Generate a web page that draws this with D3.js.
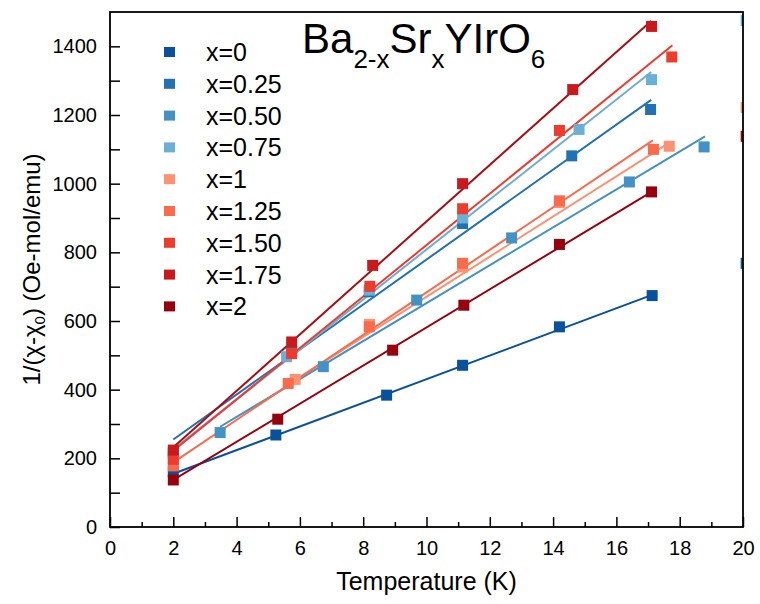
<!DOCTYPE html>
<html>
<head>
<meta charset="utf-8">
<script src="https://cdn.jsdelivr.net/npm/d3@7"></script>
<style>
  body { margin: 0; background: #fff; }
  svg { font-family: 'Liberation Sans', Arial, sans-serif; }
</style>
</head>
<body>
<svg id="chart" width="760" height="604"></svg>
<script>
'use strict';

// legend labels, one per composition
const labels = ['x=0', 'x=0.25', 'x=0.50', 'x=0.75', 'x=1', 'x=1.25', 'x=1.50', 'x=1.75', 'x=2'];

// measured points [T (K), 1/(chi-chi0)] per composition
const pts0 = [[2, 161], [5.24, 268], [8.74, 384], [11.14, 471], [14.2, 583], [17.13, 674], [20.1, 768]];
const pts025 = [[2, 215], [5.74, 512], [8.19, 685], [11.14, 884], [14.59, 1081], [17.08, 1216]];
const pts050 = [[3.48, 275], [6.74, 467], [9.69, 661], [12.69, 842], [16.41, 1005], [18.77, 1107]];
const pts075 = [[2, 212], [5.58, 496], [8.2, 690], [11.14, 900], [14.82, 1158], [17.11, 1303], [20.1, 1475]];
const pts1 = [[5.85, 430], [8.2, 590], [11.14, 757], [14.2, 945], [17.67, 1109], [20.1, 1222]];
const pts125 = [[2, 178], [5.63, 418], [8.19, 583], [11.14, 768], [14.2, 950], [17.17, 1100]];
const pts150 = [[2, 197], [5.74, 505], [8.21, 701], [11.14, 927], [14.2, 1155], [17.75, 1369]];
const pts175 = [[2, 224], [5.74, 539], [8.3, 762], [11.14, 1000], [14.62, 1274], [17.11, 1458]];
const pts2 = [[2, 137], [5.3, 314], [8.93, 515], [11.18, 646], [14.2, 823], [17.11, 976], [20.1, 1138]];

// Curie-Weiss fit lines [T1, y1, T2, y2]
const fitLines = [
  [2, 155, 17.13, 676],
  [2, 255, 17.1, 1244],
  [3.48, 292, 18.8, 1138],
  [2, 226, 17.1, 1325],
  [5.85, 428, 17.69, 1120],
  [2, 188, 17.15, 1126],
  [2, 222, 17.77, 1403],
  [2, 232, 17.1, 1474],
  [2, 137, 17.11, 976]
];

const xTicks = [0, 2, 4, 6, 8, 10, 12, 14, 16, 18, 20];
const yTicks = [0, 200, 400, 600, 800, 1000, 1200, 1400];

const allPts = [pts0, pts025, pts050, pts075, pts1, pts125, pts150, pts175, pts2];
const colors = ['#08519c', '#2171b5', '#4292c6', '#6baed6', '#fc9272', '#fb6a4a', '#ef3b2c', '#cb181d', '#99000d'];
const lineColors = ['#08519c', '#2171b5', '#4292c6', '#6baed6', '#fc9272', '#fb6a4a', '#ef3b2c', '#a50f15', '#99000d'];

const margin = {left: 110, right: 17, top: 12, bottom: 77};
const width = 760 - margin.left - margin.right;
const height = 604 - margin.top - margin.bottom;

const svg = d3.select('#chart');
const g = svg.append('g')
    .attr('transform', 'translate(' + margin.left + ',' + margin.top + ')');

const x = d3.scaleLinear().domain([0, 20]).range([0, width]);
const y = d3.scaleLinear().domain([0, 1500]).range([height, 0]);

g.append('clipPath').attr('id', 'clip')
    .append('rect').attr('width', width).attr('height', height);

const plot = g.append('g').attr('clip-path', 'url(#clip)');

// fit lines
plot.selectAll('line.fit')
    .data(fitLines)
    .enter().append('line')
    .attr('class', 'fit')
    .attr('x1', (d) => x(d[0]))
    .attr('y1', (d) => y(d[1]))
    .attr('x2', (d) => x(d[2]))
    .attr('y2', (d) => y(d[3]))
    .attr('stroke', (d, i) => lineColors[i])
    .attr('stroke-width', 2);

// squares
const sq = 11;
allPts.forEach((pts, i) => {
  plot.append('g').selectAll('rect')
      .data(pts)
      .enter().append('rect')
      .attr('x', (d) => x(d[0]) - sq / 2)
      .attr('y', (d) => y(d[1]) - sq / 2)
      .attr('width', sq)
      .attr('height', sq)
      .attr('fill', colors[i]);
});

// axes
g.append('g')
    .attr('transform', 'translate(0,' + height + ')')
    .call(d3.axisBottom(x).tickValues(xTicks).tickSizeInner(-10).tickSizeOuter(0).tickPadding(14).tickFormat(d3.format('d')));
g.append('g')
    .attr('transform', 'translate(0,' + height + ')')
    .call(d3.axisBottom(x).tickValues(d3.range(1, 20, 2)).tickSizeInner(-5).tickSizeOuter(0).tickFormat(''));
g.append('g')
    .call(d3.axisLeft(y).tickValues(yTicks).tickSizeInner(-10).tickSizeOuter(0).tickPadding(13).tickFormat(d3.format('d')));
g.append('g')
    .call(d3.axisLeft(y).tickValues(d3.range(100, 1500, 200)).tickSizeInner(-10).tickSizeOuter(0).tickFormat(''));

g.selectAll('.tick line').attr('stroke', '#000').attr('stroke-width', 1.5);
g.selectAll('.domain').remove();
g.selectAll('.tick text').attr('font-size', 20).attr('fill', '#000')
    .style('font-family', "'Liberation Sans', Arial, sans-serif");

// frame
g.append('rect')
    .attr('width', width)
    .attr('height', height)
    .attr('fill', 'none')
    .attr('stroke', '#000')
    .attr('stroke-width', 1.8);

// axis titles
svg.append('text')
    .attr('x', margin.left + width / 2)
    .attr('y', 590)
    .attr('text-anchor', 'middle')
    .attr('font-size', 25)
    .text('Temperature (K)');

const yl = svg.append('text')
    .attr('transform', 'translate(40,' + (margin.top + height / 2) + ') rotate(-90)')
    .attr('text-anchor', 'middle')
    .attr('font-size', 24);
yl.append('tspan').text('1/(χ-χ');
yl.append('tspan').attr('font-size', 15).attr('dy', 5).text('0');
yl.append('tspan').attr('dy', -5).text(') (Oe-mol/emu)');

// compound title
const t = svg.append('text')
    .attr('x', 302)
    .attr('y', 53)
    .attr('font-size', 42);
t.append('tspan').text('Ba');
t.append('tspan').attr('font-size', 26).attr('dy', 15).text('2-x');
t.append('tspan').attr('dy', -15).text('Sr');
t.append('tspan').attr('font-size', 26).attr('dy', 15).text('x');
t.append('tspan').attr('dy', -15).text('YIrO');
t.append('tspan').attr('font-size', 26).attr('dy', 15).text('6');

// legend
const legend = svg.append('g');
labels.forEach((lab, i) => {
  const ly = 52 + i * 31.8;
  legend.append('rect')
      .attr('x', 164)
      .attr('y', ly - 5)
      .attr('width', 11)
      .attr('height', 10)
      .attr('fill', colors[i]);
  legend.append('text')
      .attr('x', 206)
      .attr('y', ly + 9)
      .attr('font-size', 25)
      .text(lab);
});
</script>
</body>
</html>
